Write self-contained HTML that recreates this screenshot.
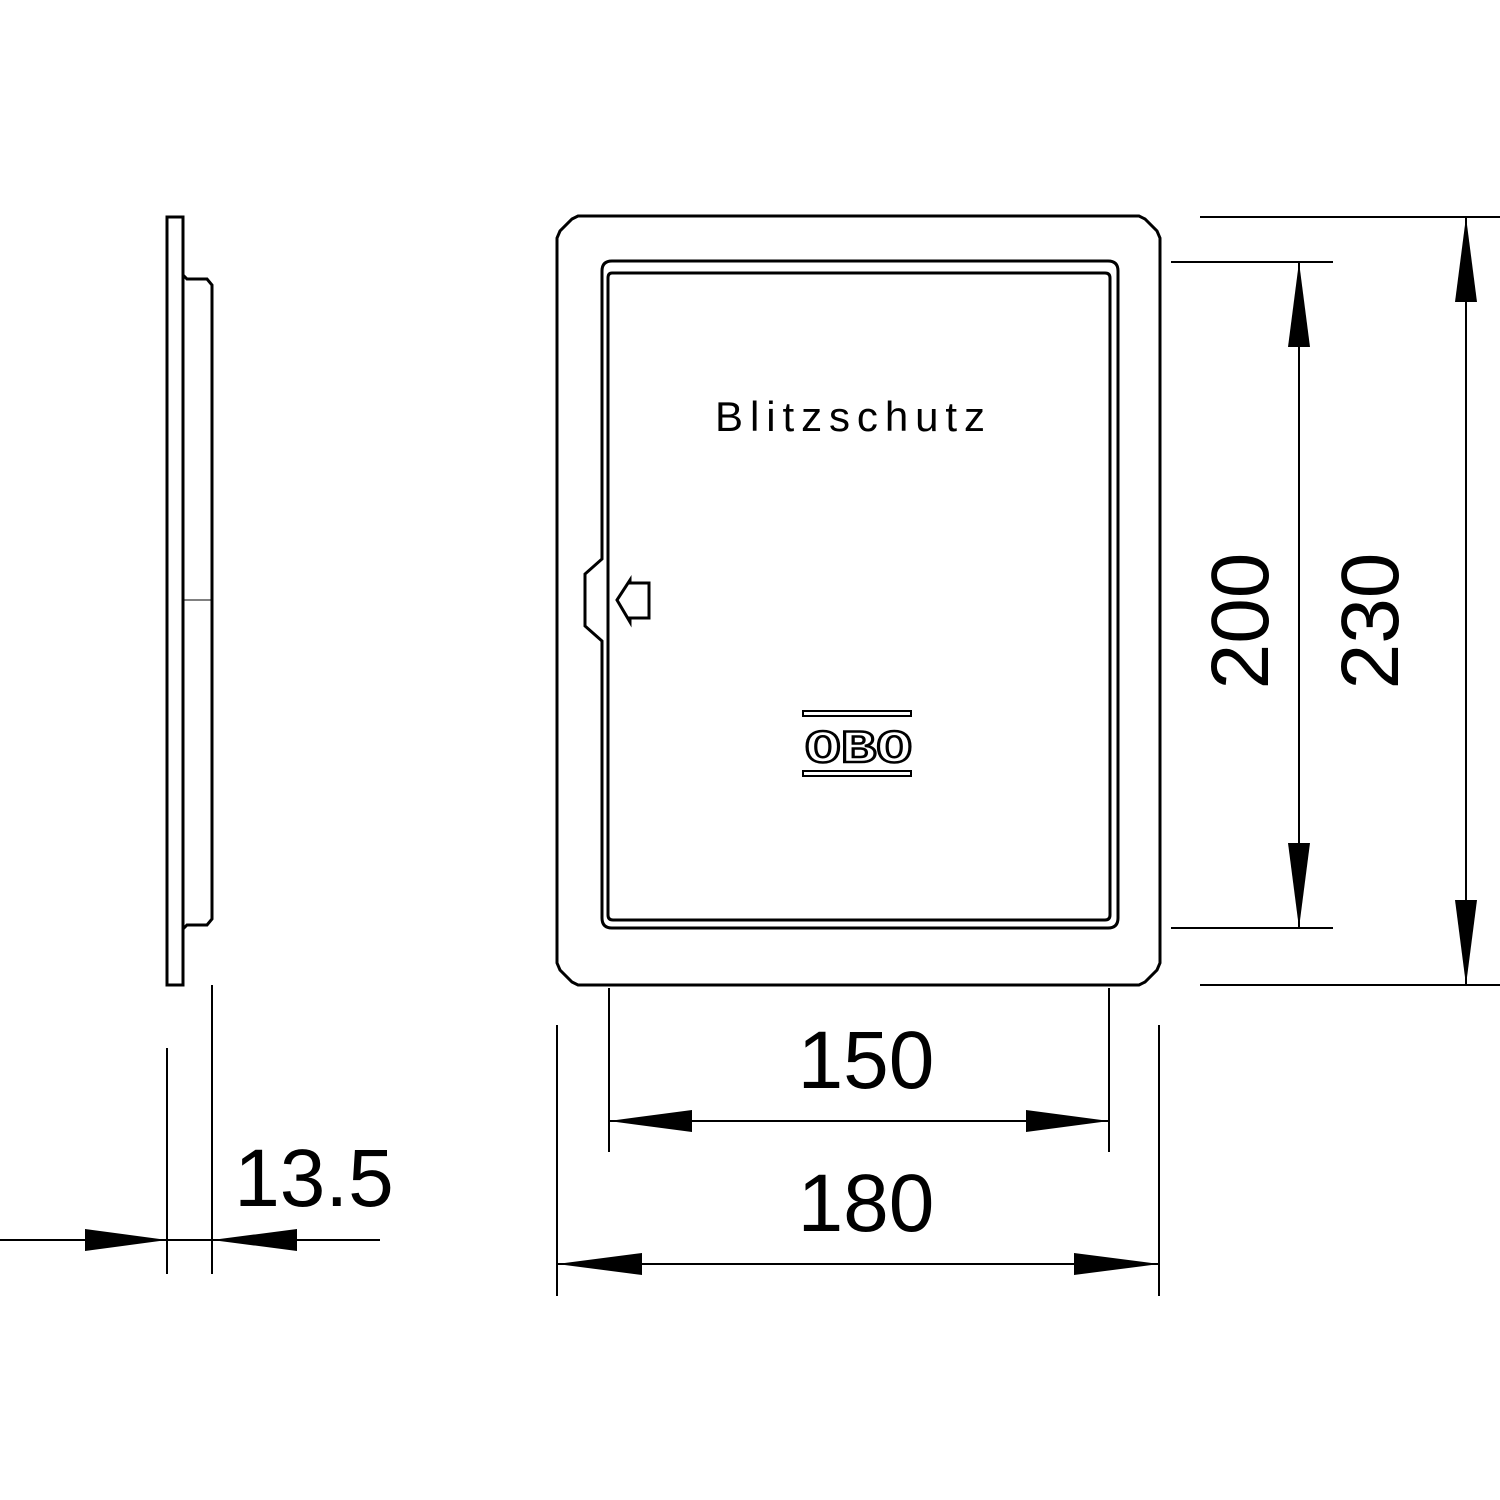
<!DOCTYPE html>
<html><head><style>html,body{margin:0;padding:0;background:#fff}svg{display:block}</style></head>
<body>
<svg width="1500" height="1500" viewBox="0 0 1500 1500" xmlns="http://www.w3.org/2000/svg">
<g fill="none" stroke="#000" stroke-width="3">
<rect x="167" y="217" width="16" height="768"/>
<path d="M183 275 L187 279 H207 L212 285 V919 L207 925 H187 L183 929"/>
<line x1="183" y1="600" x2="212" y2="600" stroke-width="1"/>
<path d="M578 216 H1139 L1145 219 L1157 231 L1160 238 V963 L1157 970 L1145 982 L1139 985 H578 L572 982 L560 970 L557 963 V238 L560 231 L572 219 Z"/>
<path d="M612 261 H1108 Q1118 261 1118 271 V918 Q1118 928 1108 928 H612 Q602 928 602 918 V641 L585 626 V574 L602 559 V271 Q602 261 612 261 Z"/>
<path d="M612 273 H1105 Q1110 273 1110 278 V915 Q1110 920 1105 920 H613 Q608 920 608 915 V278 Q608 273 612 273 Z"/>
<path d="M617 600 L630 580 V583 H649 V618 H630 V622 Z"/>
<rect x="803" y="711" width="108" height="5" stroke-width="2"/>
<rect x="803" y="771" width="108" height="5" stroke-width="2"/>
</g>
<text x="805" y="762" textLength="107" lengthAdjust="spacingAndGlyphs" font-family="Liberation Mono, monospace" font-weight="bold" font-size="46" fill="#fff" stroke="#000" stroke-width="2.5">OBO</text>
<text x="715" y="431" textLength="270" lengthAdjust="spacing" font-family="Liberation Sans, sans-serif" font-size="42" fill="#000">Blitzschutz</text>
<g stroke="#000" stroke-width="2" fill="none">
<line x1="1200" y1="217" x2="1500" y2="217"/>
<line x1="1200" y1="985" x2="1500" y2="985"/>
<line x1="1466" y1="217" x2="1466" y2="985"/>
<line x1="1171" y1="262" x2="1333" y2="262"/>
<line x1="1171" y1="928" x2="1333" y2="928"/>
<line x1="1299" y1="262" x2="1299" y2="928"/>
<line x1="609" y1="988" x2="609" y2="1152"/>
<line x1="1109" y1="988" x2="1109" y2="1152"/>
<line x1="609" y1="1121" x2="1109" y2="1121"/>
<line x1="557" y1="1025" x2="557" y2="1296"/>
<line x1="1159" y1="1025" x2="1159" y2="1296"/>
<line x1="557" y1="1264" x2="1159" y2="1264"/>
<line x1="167" y1="1048" x2="167" y2="1274"/>
<line x1="212" y1="985" x2="212" y2="1274"/>
<line x1="0" y1="1240" x2="380" y2="1240"/>
</g>
<g fill="#000">
<path d="M1466 217 L1455 302 H1477 Z"/>
<path d="M1466 985 L1455 900 H1477 Z"/>
<path d="M1299 262 L1288 347 H1310 Z"/>
<path d="M1299 928 L1288 843 H1310 Z"/>
<path d="M609 1121 L692 1110 V1132 Z"/>
<path d="M1109 1121 L1026 1110 V1132 Z"/>
<path d="M557 1264 L642 1253 V1275 Z"/>
<path d="M1159 1264 L1074 1253 V1275 Z"/>
<path d="M167 1240 L85 1229 V1251 Z"/>
<path d="M212 1240 L297 1229 V1251 Z"/>
</g>
<g font-family="Liberation Sans, sans-serif" font-size="82" fill="#000" text-anchor="middle">
<text x="866" y="1088">150</text>
<text x="866" y="1231">180</text>
<text x="314" y="1206">13.5</text>
<text transform="translate(1268,621) rotate(-90)">200</text>
<text transform="translate(1398,621) rotate(-90)">230</text>
</g>
</svg>
</body></html>
